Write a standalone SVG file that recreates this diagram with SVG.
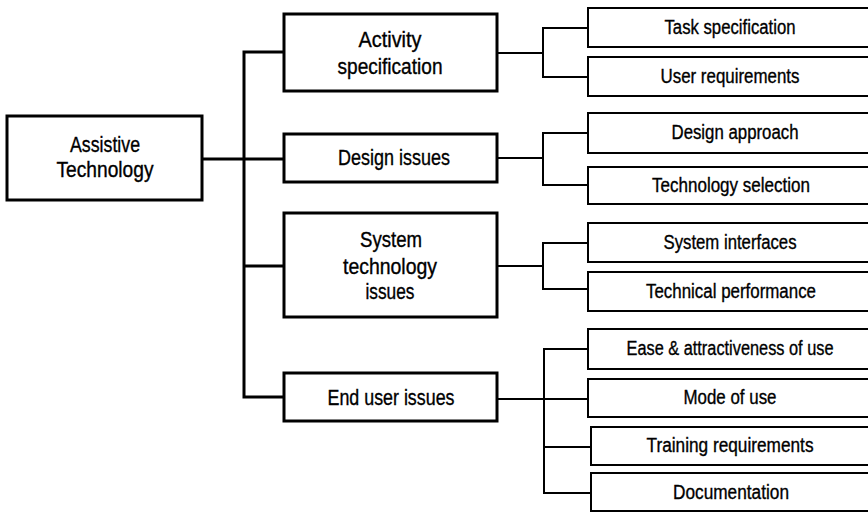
<svg xmlns="http://www.w3.org/2000/svg" width="868" height="512" viewBox="0 0 868 512">
  <style>
    .main { fill: #fff; stroke: #000; stroke-width: 3; }
    .leaf { fill: #fff; stroke: #000; stroke-width: 2; }
    .trunk { fill: none; stroke: #000; stroke-width: 3; }
    .branch { fill: none; stroke: #000; stroke-width: 2; }
    text { font-family: "Liberation Sans", Arial, sans-serif; fill: #000; stroke: #000; stroke-width: 0.35; text-anchor: middle; }
    .big { font-size: 21.5px; }
    .small { font-size: 20px; }
  </style>
  <rect width="868" height="512" fill="#fff"/>

  <!-- connectors -->
  <g id="connectors">
    <path class="trunk" d="M284,52 H244 V397 H284 M202,159 H284 M244,266 H284"/>
    <path class="branch" d="M497,53 H543 M588,28 H543 V77 H588"/>
    <path class="branch" d="M497,158 H543 M588,133 H543 V185 H588"/>
    <path class="branch" d="M497,266 H543 M588,243 H543 V289 H588"/>
    <path class="branch" d="M497,399 H588 M588,349 H544 V493 H591 M544,447 H591"/>
  </g>

  <!-- root -->
  <g id="assistive-technology">
    <rect class="main" x="7" y="116" width="195" height="84"/>
    <text class="big" x="105" y="152" textLength="70" lengthAdjust="spacingAndGlyphs">Assistive</text>
    <text class="big" x="105" y="177" textLength="97" lengthAdjust="spacingAndGlyphs">Technology</text>
  </g>

  <!-- second tier -->
  <g id="activity-specification">
    <rect class="main" x="284" y="14" width="213" height="77"/>
    <text class="big" x="390" y="47" textLength="63" lengthAdjust="spacingAndGlyphs">Activity</text>
    <text class="big" x="390" y="74" textLength="105" lengthAdjust="spacingAndGlyphs">specification</text>
  </g>
  <g id="design-issues">
    <rect class="main" x="284" y="134" width="213" height="48"/>
    <text class="big" x="394" y="165" textLength="112" lengthAdjust="spacingAndGlyphs">Design issues</text>
  </g>
  <g id="system-technology-issues">
    <rect class="main" x="284" y="213" width="213" height="104"/>
    <text class="big" x="391" y="247" textLength="62" lengthAdjust="spacingAndGlyphs">System</text>
    <text class="big" x="390" y="274" textLength="94" lengthAdjust="spacingAndGlyphs">technology</text>
    <text class="big" x="390" y="299" textLength="49" lengthAdjust="spacingAndGlyphs">issues</text>
  </g>
  <g id="end-user-issues">
    <rect class="main" x="284" y="373" width="213" height="48"/>
    <text class="big" x="391" y="405" textLength="127" lengthAdjust="spacingAndGlyphs">End user issues</text>
  </g>

  <!-- leaves (right edges run past the page) -->
  <g id="task-specification">
    <rect class="leaf" x="588" y="8" width="284" height="39"/>
    <text class="small" x="730" y="34" textLength="131" lengthAdjust="spacingAndGlyphs">Task specification</text>
  </g>
  <g id="user-requirements">
    <rect class="leaf" x="588" y="57" width="284" height="39"/>
    <text class="small" x="730" y="83" textLength="139" lengthAdjust="spacingAndGlyphs">User requirements</text>
  </g>
  <g id="design-approach">
    <rect class="leaf" x="588" y="113" width="284" height="40"/>
    <text class="small" x="735" y="139" textLength="127" lengthAdjust="spacingAndGlyphs">Design approach</text>
  </g>
  <g id="technology-selection">
    <rect class="leaf" x="588" y="167" width="284" height="37"/>
    <text class="small" x="731" y="192" textLength="158" lengthAdjust="spacingAndGlyphs">Technology selection</text>
  </g>
  <g id="system-interfaces">
    <rect class="leaf" x="588" y="223" width="284" height="39"/>
    <text class="small" x="730" y="249" textLength="133" lengthAdjust="spacingAndGlyphs">System interfaces</text>
  </g>
  <g id="technical-performance">
    <rect class="leaf" x="588" y="272" width="284" height="39"/>
    <text class="small" x="731" y="298" textLength="170" lengthAdjust="spacingAndGlyphs">Technical performance</text>
  </g>
  <g id="ease-attractiveness">
    <rect class="leaf" x="588" y="329" width="284" height="40"/>
    <text class="small" x="730" y="355" textLength="207" lengthAdjust="spacingAndGlyphs">Ease &amp; attractiveness of use</text>
  </g>
  <g id="mode-of-use">
    <rect class="leaf" x="588" y="379" width="284" height="38"/>
    <text class="small" x="730" y="404" textLength="93" lengthAdjust="spacingAndGlyphs">Mode of use</text>
  </g>
  <g id="training-requirements">
    <rect class="leaf" x="591" y="427" width="281" height="38"/>
    <text class="small" x="730" y="452" textLength="167" lengthAdjust="spacingAndGlyphs">Training requirements</text>
  </g>
  <g id="documentation">
    <rect class="leaf" x="591" y="473" width="281" height="38"/>
    <text class="small" x="731" y="499" textLength="116" lengthAdjust="spacingAndGlyphs">Documentation</text>
  </g>
</svg>
